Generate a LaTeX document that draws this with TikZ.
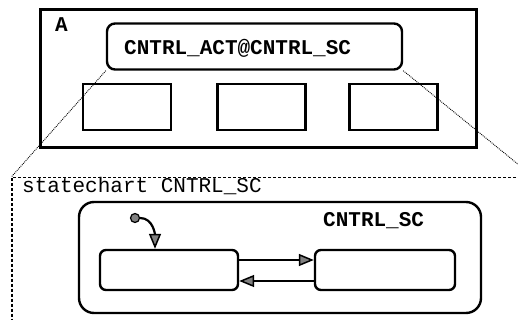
\documentclass[tikz,border=0pt]{standalone}
\usepackage{fontspec}
\setmonofont{Liberation Mono}
\usetikzlibrary{arrows.meta}
\begin{document}
\begin{tikzpicture}[x=1pt, y=-1pt,
    box/.style={draw, line width=2.4pt, inner sep=0pt},
    lbl/.style={anchor=base west, inner sep=0pt, font=\fontsize{21}{24}\selectfont\ttfamily\bfseries},
    trans/.style={line width=2.2pt, -{Triangle[length=15pt, width=12pt, fill=gray, line width=1.5pt]}},
    link/.style={densely dotted, line width=0.9pt}]
          \useasboundingbox (0,0) rectangle (518,320); %
          \clip (0,0) rectangle (518,320); %
          % activity chart A
          \node[box, line width=3pt, minimum width=436pt, minimum height=138pt] (A) at (258,79) {}; %
          \node[lbl] (Aname) at (55,32) {A}; %
          \node[box, rounded corners=8pt, minimum width=295pt, minimum height=46pt] (act) at (254.5,46.5) {}; %
          \node[lbl] (actname) at (124,55) {CNTRL\_ACT@CNTRL\_SC}; %
          \node[box, minimum width=88pt, minimum height=46pt] (b1) at (127,107) {}; %
          \node[box, minimum width=88pt, minimum height=46pt] (b2) at (261.5,107) {}; %
          \node[box, minimum width=88pt, minimum height=46pt] (b3) at (393.5,107) {}; %
          % statechart frame
          \node[draw, dash pattern=on 3pt off 2pt, line width=1.2pt, minimum width=521pt, minimum height=162pt, inner sep=0pt] (frame) at (272.5,258.5) {}; %
          \node[lbl, font=\fontsize{21}{24}\selectfont\ttfamily] (framename) at (22,192) {statechart CNTRL\_SC}; %
          \draw[link] (act.south west) -- (frame.north west); %
          \draw[link] (act.south east) -- (frame.north east); %
          % statechart CNTRL_SC
          \node[box, rounded corners=15pt, minimum width=402pt, minimum height=111pt] (sc) at (280,257.5) {}; %
          \node[lbl] (scname) at (323,226) {CNTRL\_SC}; %
          \node[box, rounded corners=6pt, minimum width=138pt, minimum height=40pt] (S1) at (169,270) {}; %
          \node[box, rounded corners=6pt, minimum width=140pt, minimum height=40pt] (S2) at (385,270) {}; %
          \node[circle, draw, line width=1.2pt, fill=gray, minimum size=9pt, inner sep=0pt] (init) at (135,218) {}; %
          \draw[trans] (init) to[out=0, in=90] ([xshift=-14pt]S1.north); %
          \draw[trans] ([yshift=10pt]S1.east) -- ([yshift=10pt]S2.west); %
          \draw[trans] ([yshift=-11pt]S2.west) -- ([yshift=-11pt]S1.east); %
        \end{tikzpicture}
\end{document}
